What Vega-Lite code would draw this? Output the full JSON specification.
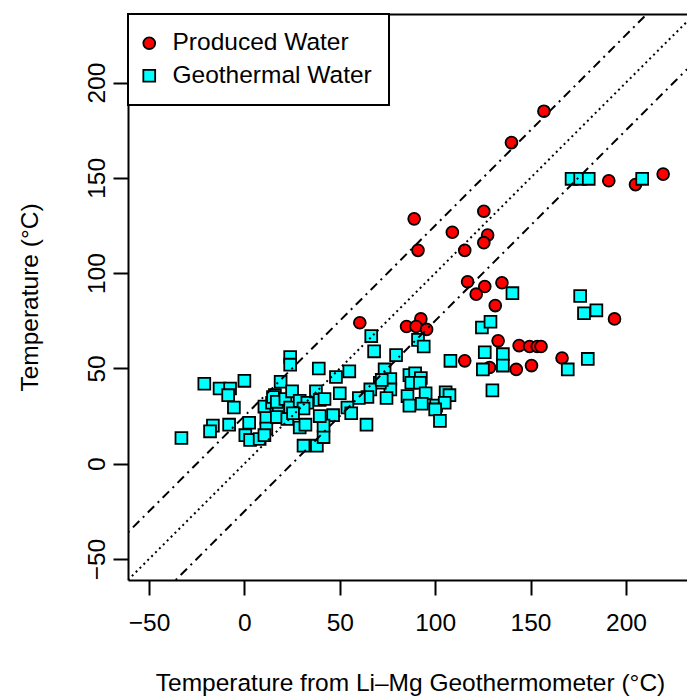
{
  "$schema": "https://vega.github.io/schema/vega-lite/v6.json",
  "width": 559,
  "height": 566,
  "autosize": {"type": "none"},
  "padding": {"left": 128, "top": 14, "right": 0, "bottom": 119},
  "background": "white",
  "config": {
    "view": {"stroke": null},
    "font": "Liberation Sans",
    "axis": {
      "grid": false,
      "domainColor": "black",
      "domainWidth": 2,
      "tickColor": "black",
      "tickWidth": 2,
      "tickSize": 15,
      "labelColor": "black",
      "labelFontSize": 24.5,
      "labelFont": "Liberation Sans",
      "titleColor": "black",
      "titleFontSize": 24.5,
      "titleFont": "Liberation Sans",
      "titleFontWeight": "normal"
    },
    "legend": {"strokeWidth": 2}
  },
  "layer": [
    {
      "data": {
        "values": [
          {"li_mg": 157, "temp": 185, "type": "Produced Water"},
          {"li_mg": 140, "temp": 168.5, "type": "Produced Water"},
          {"li_mg": 89, "temp": 128.5, "type": "Produced Water"},
          {"li_mg": 125.5, "temp": 132.5, "type": "Produced Water"},
          {"li_mg": 109, "temp": 121.5, "type": "Produced Water"},
          {"li_mg": 127.5, "temp": 120, "type": "Produced Water"},
          {"li_mg": 125.5, "temp": 116, "type": "Produced Water"},
          {"li_mg": 91, "temp": 112, "type": "Produced Water"},
          {"li_mg": 115.5, "temp": 112, "type": "Produced Water"},
          {"li_mg": 117, "temp": 95.5, "type": "Produced Water"},
          {"li_mg": 126, "temp": 93, "type": "Produced Water"},
          {"li_mg": 121.5, "temp": 89, "type": "Produced Water"},
          {"li_mg": 135, "temp": 95, "type": "Produced Water"},
          {"li_mg": 131.5, "temp": 83, "type": "Produced Water"},
          {"li_mg": 191, "temp": 148.5, "type": "Produced Water"},
          {"li_mg": 205, "temp": 146.5, "type": "Produced Water"},
          {"li_mg": 219.5, "temp": 152, "type": "Produced Water"},
          {"li_mg": 194, "temp": 76, "type": "Produced Water"},
          {"li_mg": 60.5, "temp": 74, "type": "Produced Water"},
          {"li_mg": 85, "temp": 72, "type": "Produced Water"},
          {"li_mg": 92.5, "temp": 76, "type": "Produced Water"},
          {"li_mg": 90, "temp": 72, "type": "Produced Water"},
          {"li_mg": 95.5, "temp": 70.5, "type": "Produced Water"},
          {"li_mg": 133, "temp": 64.5, "type": "Produced Water"},
          {"li_mg": 144, "temp": 62, "type": "Produced Water"},
          {"li_mg": 149.5, "temp": 61.5, "type": "Produced Water"},
          {"li_mg": 153.5, "temp": 61.5, "type": "Produced Water"},
          {"li_mg": 155.5, "temp": 61.5, "type": "Produced Water"},
          {"li_mg": 166.5, "temp": 55.5, "type": "Produced Water"},
          {"li_mg": 115.5, "temp": 54, "type": "Produced Water"},
          {"li_mg": 128.5, "temp": 50.5, "type": "Produced Water"},
          {"li_mg": 142.5, "temp": 49.5, "type": "Produced Water"},
          {"li_mg": 150.5, "temp": 51.5, "type": "Produced Water"},
          {"li_mg": 171.5, "temp": 149.5, "type": "Geothermal Water"},
          {"li_mg": 176, "temp": 149.5, "type": "Geothermal Water"},
          {"li_mg": 180.5, "temp": 149.5, "type": "Geothermal Water"},
          {"li_mg": 208.5, "temp": 149.5, "type": "Geothermal Water"},
          {"li_mg": 140.5, "temp": 89.5, "type": "Geothermal Water"},
          {"li_mg": 176, "temp": 88, "type": "Geothermal Water"},
          {"li_mg": 178, "temp": 79, "type": "Geothermal Water"},
          {"li_mg": 184.5, "temp": 80.5, "type": "Geothermal Water"},
          {"li_mg": 180, "temp": 55, "type": "Geothermal Water"},
          {"li_mg": 169.5, "temp": 49.5, "type": "Geothermal Water"},
          {"li_mg": 124.5, "temp": 71.5, "type": "Geothermal Water"},
          {"li_mg": 129, "temp": 74.5, "type": "Geothermal Water"},
          {"li_mg": 126, "temp": 58.5, "type": "Geothermal Water"},
          {"li_mg": 135.5, "temp": 57.5, "type": "Geothermal Water"},
          {"li_mg": 108, "temp": 54, "type": "Geothermal Water"},
          {"li_mg": 125, "temp": 49.5, "type": "Geothermal Water"},
          {"li_mg": 135.5, "temp": 51.5, "type": "Geothermal Water"},
          {"li_mg": 130, "temp": 38.5, "type": "Geothermal Water"},
          {"li_mg": 91, "temp": 65, "type": "Geothermal Water"},
          {"li_mg": 94, "temp": 61.5, "type": "Geothermal Water"},
          {"li_mg": 79.5, "temp": 57, "type": "Geothermal Water"},
          {"li_mg": 66.5, "temp": 67, "type": "Geothermal Water"},
          {"li_mg": 68, "temp": 59, "type": "Geothermal Water"},
          {"li_mg": 73.5, "temp": 49.5, "type": "Geothermal Water"},
          {"li_mg": 76.5, "temp": 44.5, "type": "Geothermal Water"},
          {"li_mg": 76.5, "temp": 39, "type": "Geothermal Water"},
          {"li_mg": 71, "temp": 42.5, "type": "Geothermal Water"},
          {"li_mg": 74.5, "temp": 34.5, "type": "Geothermal Water"},
          {"li_mg": 66, "temp": 39, "type": "Geothermal Water"},
          {"li_mg": 64.5, "temp": 35, "type": "Geothermal Water"},
          {"li_mg": 60, "temp": 34.5, "type": "Geothermal Water"},
          {"li_mg": 50, "temp": 37, "type": "Geothermal Water"},
          {"li_mg": 54, "temp": 29.5, "type": "Geothermal Water"},
          {"li_mg": 56, "temp": 26.5, "type": "Geothermal Water"},
          {"li_mg": 64, "temp": 20.5, "type": "Geothermal Water"},
          {"li_mg": 46.5, "temp": 25.5, "type": "Geothermal Water"},
          {"li_mg": 55, "temp": 48.5, "type": "Geothermal Water"},
          {"li_mg": 48, "temp": 45.5, "type": "Geothermal Water"},
          {"li_mg": 39, "temp": 50, "type": "Geothermal Water"},
          {"li_mg": 24, "temp": 56, "type": "Geothermal Water"},
          {"li_mg": 24, "temp": 52, "type": "Geothermal Water"},
          {"li_mg": 19, "temp": 43, "type": "Geothermal Water"},
          {"li_mg": 0, "temp": 43.5, "type": "Geothermal Water"},
          {"li_mg": -21, "temp": 42, "type": "Geothermal Water"},
          {"li_mg": -13, "temp": 39.5, "type": "Geothermal Water"},
          {"li_mg": -7.5, "temp": 39.5, "type": "Geothermal Water"},
          {"li_mg": -8.5, "temp": 36, "type": "Geothermal Water"},
          {"li_mg": -5.5, "temp": 29.5, "type": "Geothermal Water"},
          {"li_mg": -8, "temp": 20.5, "type": "Geothermal Water"},
          {"li_mg": -16.5, "temp": 20, "type": "Geothermal Water"},
          {"li_mg": -18, "temp": 17, "type": "Geothermal Water"},
          {"li_mg": -33, "temp": 13.5, "type": "Geothermal Water"},
          {"li_mg": 2.5, "temp": 21.5, "type": "Geothermal Water"},
          {"li_mg": 0.5, "temp": 15, "type": "Geothermal Water"},
          {"li_mg": 3, "temp": 12.5, "type": "Geothermal Water"},
          {"li_mg": 8, "temp": 13, "type": "Geothermal Water"},
          {"li_mg": 31, "temp": 9.5, "type": "Geothermal Water"},
          {"li_mg": 38, "temp": 9.5, "type": "Geothermal Water"},
          {"li_mg": 41.5, "temp": 14, "type": "Geothermal Water"},
          {"li_mg": 41.5, "temp": 20, "type": "Geothermal Water"},
          {"li_mg": 39.5, "temp": 25, "type": "Geothermal Water"},
          {"li_mg": 29, "temp": 19, "type": "Geothermal Water"},
          {"li_mg": 32, "temp": 20.5, "type": "Geothermal Water"},
          {"li_mg": 10.5, "temp": 30, "type": "Geothermal Water"},
          {"li_mg": 11.5, "temp": 24, "type": "Geothermal Water"},
          {"li_mg": 11.5, "temp": 18.5, "type": "Geothermal Water"},
          {"li_mg": 14.5, "temp": 32, "type": "Geothermal Water"},
          {"li_mg": 16, "temp": 36, "type": "Geothermal Water"},
          {"li_mg": 18, "temp": 28.5, "type": "Geothermal Water"},
          {"li_mg": 15, "temp": 35, "type": "Geothermal Water"},
          {"li_mg": 17, "temp": 32.5, "type": "Geothermal Water"},
          {"li_mg": 21.5, "temp": 34, "type": "Geothermal Water"},
          {"li_mg": 24, "temp": 29.5, "type": "Geothermal Water"},
          {"li_mg": 25, "temp": 38, "type": "Geothermal Water"},
          {"li_mg": 29, "temp": 33, "type": "Geothermal Water"},
          {"li_mg": 33, "temp": 32, "type": "Geothermal Water"},
          {"li_mg": 31, "temp": 29, "type": "Geothermal Water"},
          {"li_mg": 37.5, "temp": 38, "type": "Geothermal Water"},
          {"li_mg": 39.5, "temp": 33.5, "type": "Geothermal Water"},
          {"li_mg": 42, "temp": 34, "type": "Geothermal Water"},
          {"li_mg": 17, "temp": 24.5, "type": "Geothermal Water"},
          {"li_mg": 22.5, "temp": 23.5, "type": "Geothermal Water"},
          {"li_mg": 25.5, "temp": 26.5, "type": "Geothermal Water"},
          {"li_mg": 10.5, "temp": 15, "type": "Geothermal Water"},
          {"li_mg": 72, "temp": 44, "type": "Geothermal Water"},
          {"li_mg": 86.5, "temp": 46.5, "type": "Geothermal Water"},
          {"li_mg": 89.5, "temp": 47.5, "type": "Geothermal Water"},
          {"li_mg": 92.5, "temp": 45, "type": "Geothermal Water"},
          {"li_mg": 87.5, "temp": 42.5, "type": "Geothermal Water"},
          {"li_mg": 92, "temp": 42.5, "type": "Geothermal Water"},
          {"li_mg": 85.5, "temp": 35.5, "type": "Geothermal Water"},
          {"li_mg": 86.5, "temp": 30.5, "type": "Geothermal Water"},
          {"li_mg": 95, "temp": 37, "type": "Geothermal Water"},
          {"li_mg": 93, "temp": 31.5, "type": "Geothermal Water"},
          {"li_mg": 100.5, "temp": 30.5, "type": "Geothermal Water"},
          {"li_mg": 105.5, "temp": 37.5, "type": "Geothermal Water"},
          {"li_mg": 107.5, "temp": 36, "type": "Geothermal Water"},
          {"li_mg": 105, "temp": 32, "type": "Geothermal Water"},
          {"li_mg": 100, "temp": 28.5, "type": "Geothermal Water"},
          {"li_mg": 102.5, "temp": 22.5, "type": "Geothermal Water"}
        ]
      },
      "mark": {"type": "point", "filled": true, "opacity": 1, "stroke": "black", "strokeWidth": 1.8, "size": 140},
      "encoding": {
        "x": {
          "field": "li_mg", "type": "quantitative",
          "scale": {"domain": [-61, 232], "nice": false, "zero": false},
          "axis": {
            "orient": "bottom",
            "values": [-50, 0, 50, 100, 150, 200],
            "title": "Temperature from Li–Mg Geothermometer (°C)",
            "labelBaseline": "alphabetic",
            "labelPadding": 35,
            "labelFlush": false,
            "labelOverlap": false,
            "titleX": 282,
            "titleY": 110,
            "titleAlign": "center",
            "titleBaseline": "alphabetic"
          }
        },
        "y": {
          "field": "temp", "type": "quantitative",
          "scale": {"domain": [-61, 236], "nice": false, "zero": false},
          "axis": {
            "orient": "left",
            "values": [-50, 0, 50, 100, 150, 200],
            "title": "Temperature (°C)",
            "labelAngle": -90,
            "labelAlign": "center",
            "labelBaseline": "alphabetic",
            "labelPadding": 9,
            "labelFlush": false,
            "labelOverlap": false,
            "titleAngle": -90,
            "titleX": -91,
            "titleY": 283,
            "titleAlign": "center",
            "titleBaseline": "alphabetic"
          }
        },
        "color": {
          "field": "type", "type": "nominal",
          "scale": {"domain": ["Produced Water", "Geothermal Water"], "range": ["#FF0000", "#00FFFF"]},
          "legend": {
            "orient": "none",
            "legendX": 0,
            "legendY": 0,
            "title": null,
            "strokeColor": "black",
            "fillColor": "white",
            "padding": 17,
            "labelFontSize": 24.5,
            "labelFont": "Liberation Sans",
            "labelColor": "black",
            "labelLimit": 0,
            "labelOffset": 11,
            "symbolOffset": -8,
            "rowPadding": 7.5,
            "symbolSize": 140,
            "symbolStrokeColor": "black",
            "symbolStrokeWidth": 1.8,
            "symbolOpacity": 1
          }
        },
        "shape": {
          "field": "type", "type": "nominal",
          "scale": {"domain": ["Produced Water", "Geothermal Water"], "range": ["circle", "square"]}
        }
      }
    },
    {
      "data": {
        "values": [
          {"kind": "dotted", "x": -61, "y": -61, "x2": 232, "y2": 232},
          {"kind": "dotdash", "x": -61, "y": -36, "x2": 211, "y2": 236},
          {"kind": "dotdash", "x": -36, "y": -61, "x2": 232, "y2": 207}
        ]
      },
      "mark": {"type": "rule", "color": "black", "strokeWidth": 2, "clip": true},
      "encoding": {
        "x": {"field": "x", "type": "quantitative", "axis": {"orient": "top", "labels": false, "ticks": false, "title": null, "domain": true}},
        "y": {
          "field": "y", "type": "quantitative",
          "axis": {
            "orient": "left",
            "values": [-50, 0, 50, 100, 150, 200],
            "title": "Temperature (°C)",
            "labelAngle": -90,
            "labelAlign": "center",
            "labelBaseline": "alphabetic",
            "labelPadding": 9,
            "labelFlush": false,
            "labelOverlap": false,
            "titleAngle": -90,
            "titleX": -91,
            "titleY": 283,
            "titleAlign": "center",
            "titleBaseline": "alphabetic"
          }
        },
        "x2": {"field": "x2"},
        "y2": {"field": "y2"},
        "strokeDash": {
          "field": "kind", "type": "nominal",
          "scale": {"domain": ["dotted", "dotdash"], "range": [[2, 3.5], [2, 5, 9, 5]]},
          "legend": null
        }
      }
    }
  ],
  "resolve": {"axis": {"x": "independent"}}
}
